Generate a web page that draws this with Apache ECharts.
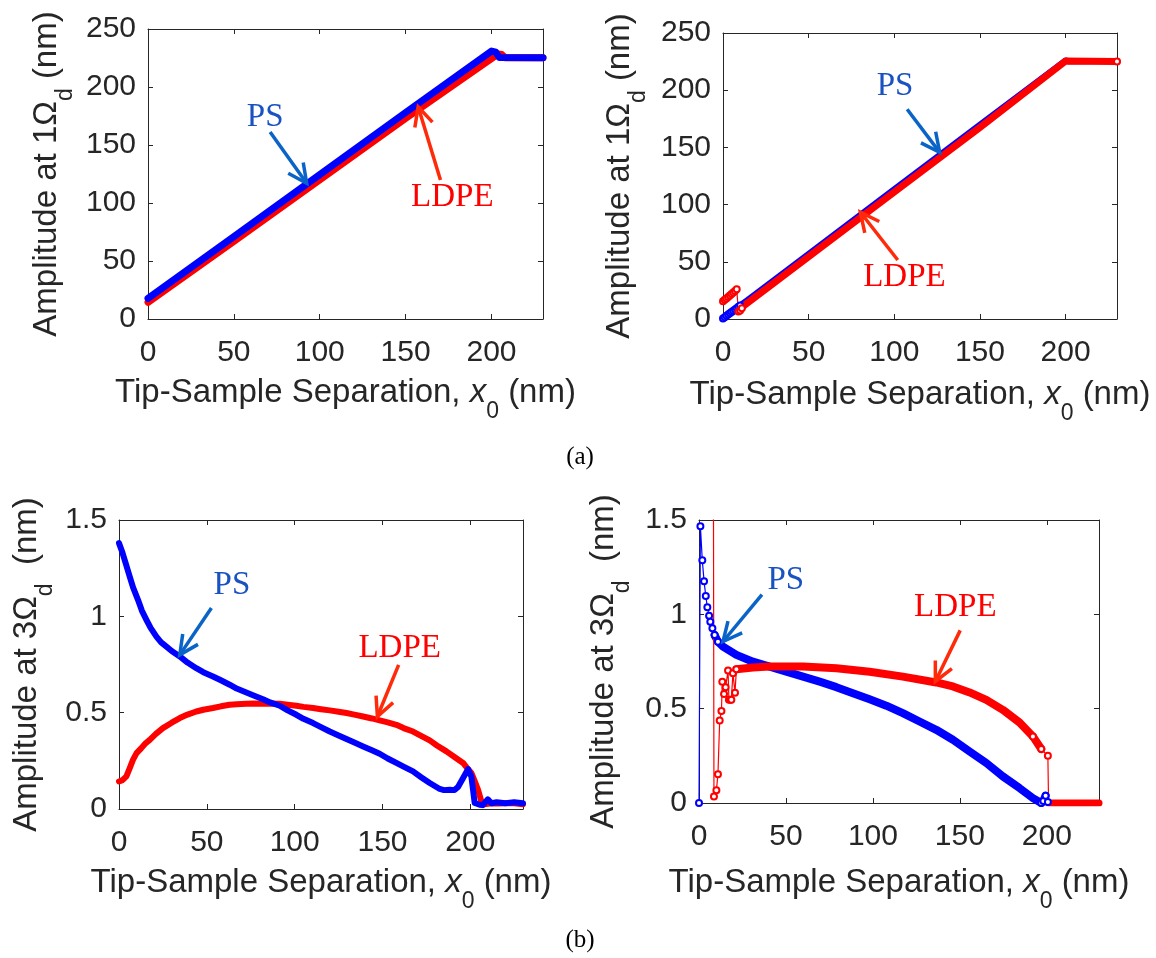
<!DOCTYPE html>
<html><head><meta charset="utf-8">
<script src="https://cdn.jsdelivr.net/npm/echarts@6/dist/echarts.min.js"></script>
<style>html,body{margin:0;padding:0;background:#fff}#c{width:1156px;height:958px}</style>
</head><body><div id="c"></div>
<script>
// ---------------- DATA ----------------
// x-axis ticks (nm)
const xMin = 0, xMax = 230, xStep = 50;
const yTop = [0, 250, 50];      // 1Ωd panels: min, max, step
const yBot = [0, 1.5, 0.5];     // 3Ωd panels

// (a) left : Amplitude at 1Ωd
const ps1x   = [0, 50, 100, 150, 200, 201, 202.5, 204.5, 230];
const ps1y   = [17.8, 71, 124.4, 178, 231, 232.5, 230, 225.5, 225.3];
const ldpe1x = [0, 50, 100, 150, 200, 204, 206, 208, 230];
const ldpe1y = [14.4, 67, 120, 173, 224.5, 228.5, 228, 225.3, 225.3];

// (a) right : Amplitude at 1Ωd
const ps2x   = [0, 1, 2, 3, 4, 5, 6, 7, 8, 9, 10, 12, 14, 50, 100, 150, 200, 202, 230];
const ps2y   = [0.5, 1.6, 2.8, 3.9, 5, 6.2, 7.3, 8.4, 9.5, 10.7, 11.8, 14.1, 16.3, 57, 113.5, 170, 226, 225.3, 225.3];
const ldpe2x = [0, 1, 2, 3, 4, 5, 6, 7, 8, 9, 10, 11, 12, 50, 100, 150, 200, 201, 230];
const ldpe2y = [15.5, 16.8, 18, 19.3, 20.6, 21.9, 23.2, 24.5, 26, 6.5, 7.5, 9.5, 11.5, 54.5, 111, 167.5, 225.5, 225, 225];

// (b) left : Amplitude at 3Ωd
const ps3x = [0, 2, 4, 6.1, 8, 10.8, 13, 15.6, 18, 21.3, 24, 27, 30, 34.6, 39, 44, 48, 53.5, 58, 63, 67, 72.5, 77, 82, 86, 91.5, 96, 101, 105, 110.5, 115, 120, 125, 129.5, 134, 139, 144, 148.4, 153, 157.9, 162, 167.4, 172, 176.9, 180, 182.6, 185, 188.3, 191, 193, 195.9, 198.7, 200.6, 202.5, 205.3, 207, 210, 212, 215, 220, 225, 230];
const ps3y = [1.380, 1.33, 1.27, 1.206, 1.15, 1.086, 1.03, 0.982, 0.94, 0.895, 0.865, 0.843, 0.82, 0.792, 0.76, 0.731, 0.71, 0.688, 0.668, 0.645, 0.625, 0.605, 0.588, 0.570, 0.553, 0.536, 0.512, 0.489, 0.468, 0.446, 0.425, 0.402, 0.382, 0.363, 0.345, 0.325, 0.305, 0.287, 0.262, 0.239, 0.22, 0.195, 0.165, 0.135, 0.118, 0.104, 0.098, 0.100, 0.098, 0.114, 0.161, 0.207, 0.169, 0.031, 0.022, 0.02, 0.05, 0.03, 0.035, 0.03, 0.035, 0.03];
const ldpe3x = [0, 2, 4.2, 6, 8, 10, 12.7, 15, 17.5, 21, 25, 30, 34.6, 39, 44, 48, 53.5, 58, 63, 67, 72.5, 77, 82, 86, 91.5, 96, 101, 105, 110.5, 115, 120, 125, 129.5, 134, 139, 144, 148.4, 153, 157.9, 162, 167.4, 172, 176.9, 181, 186.4, 191, 195.9, 198, 200.6, 202.5, 204.4, 206.3, 208, 212, 216, 220, 225, 230];
const ldpe3y = [0.143, 0.15, 0.169, 0.21, 0.256, 0.29, 0.316, 0.34, 0.359, 0.39, 0.420, 0.448, 0.472, 0.49, 0.506, 0.515, 0.524, 0.533, 0.541, 0.544, 0.546, 0.548, 0.546, 0.547, 0.546, 0.541, 0.536, 0.53, 0.524, 0.518, 0.512, 0.505, 0.498, 0.49, 0.480, 0.47, 0.460, 0.45, 0.437, 0.42, 0.402, 0.38, 0.356, 0.33, 0.299, 0.27, 0.239, 0.215, 0.187, 0.145, 0.100, 0.040, 0.025, 0.03, 0.028, 0.03, 0.03, 0.025];

// (b) right : Amplitude at 3Ωd
const ps4x = [0, 0.8, 1.9, 2.9, 3.9, 4.8, 5.8, 6.5, 7.7, 9, 10.9, 13.8, 21.5, 31, 40.6, 50.2, 59.8, 69.4, 79, 88.5, 98.1, 107.7, 117.2, 126.8, 136.4, 146, 155.6, 165.2, 174.7, 184.3, 192, 196.8, 198, 199.3, 200.6, 202, 230];
const ps4y = [0, 1.467, 1.287, 1.176, 1.097, 1.037, 0.993, 0.961, 0.926, 0.89, 0.855, 0.829, 0.785, 0.749, 0.723, 0.696, 0.670, 0.643, 0.614, 0.582, 0.550, 0.516, 0.476, 0.432, 0.388, 0.335, 0.273, 0.212, 0.141, 0.079, 0.026, 0.0, 0.01, 0.039, 0.005, 0, 0];
const ldpe4x = [7.7, 8.6, 10, 10.9, 11.9, 12.9, 13.4, 14.4, 15.3, 16.7, 17.2, 18.1, 18.6, 19.5, 20.7, 21.5, 31, 40.6, 59.8, 79, 98.1, 117.2, 136.4, 146, 155.6, 165.2, 174.7, 184.3, 192, 196.8, 200.6, 201, 230];
const ldpe4y = [5, 0.035, 0.067, 0.153, 0.437, 0.488, 0.643, 0.578, 0.614, 0.702, 0.547, 0.547, 0.547, 0.688, 0.585, 0.709, 0.718, 0.723, 0.723, 0.714, 0.696, 0.670, 0.639, 0.618, 0.586, 0.547, 0.494, 0.427, 0.353, 0.286, 0.250, 0, 0];

// ---------------- LAYOUT / STYLE ----------------
const SANS = '"Liberation Sans", Arial, sans-serif';
const SERIF = '"Liberation Serif", "Times New Roman", serif';
const AX = '#262626';
const BLUE = '#0000ff', RED = '#ff0000';

const grids = [
  {left: 148, top: 29, width: 395, height: 290},
  {left: 723, top: 33, width: 394, height: 286},
  {left: 119, top: 520, width: 404, height: 289},
  {left: 699, top: 520, width: 400, height: 283}
];
const xNameGap = [44, 46, 44, 50];
const yNameGap = [71, 73, 62, 65];

const richName = {
  m:   {fontSize: 33, fontFamily: SANS, color: AX, lineHeight: 60, verticalAlign: 'middle'},
  it:  {fontSize: 33, fontFamily: SANS, fontStyle: 'italic', color: AX, lineHeight: 60, verticalAlign: 'middle'},
  sub: {fontSize: 23, fontFamily: SANS, color: AX, lineHeight: 22, verticalAlign: 'bottom'}
};
const xName = '{m|Tip-Sample Separation, }{it|x}{sub|0}{m| (nm)}';
const yNames = ['{m|Amplitude at 1Ω}{sub|d}{m| (nm)}', '{m|Amplitude at 1Ω}{sub|d}{m| (nm)}',
                '{m|Amplitude at 3Ω}{sub|d}{m|  (nm)}', '{m|Amplitude at 3Ω}{sub|d}{m|  (nm)}'];

const zip = (xs, ys) => xs.map((x, i) => [x, ys[i]]);
const band = (xs, ys, lo, hi) => zip(xs, ys).filter(p => p[0] >= lo && p[0] <= hi);
const marked = (xs, ys, f) => zip(xs, ys).map(p => ({value: p, symbol: f(p[0]) ? 'emptyCircle' : 'none'}));

const xAxes = [], yAxes = [];
grids.forEach((g, i) => {
  const yr = i < 2 ? yTop : yBot;
  const axLine = {show: true, onZero: false, lineStyle: {color: AX, width: 1}};
  const tick = {show: true, inside: true, length: 5, lineStyle: {color: AX, width: 1}};
  xAxes.push({type: 'value', gridIndex: i, min: xMin, max: xMax, interval: xStep, position: 'bottom',
    axisLine: axLine, axisTick: tick, splitLine: {show: false},
    axisLabel: {fontSize: 30, fontFamily: SANS, color: AX, margin: 19, showMaxLabel: false},
    name: xName, nameLocation: 'middle', nameGap: xNameGap[i], nameTextStyle: {rich: richName}});
  yAxes.push({type: 'value', gridIndex: i, min: yr[0], max: yr[1], interval: yr[2], position: 'left',
    axisLine: axLine, axisTick: tick, splitLine: {show: false},
    axisLabel: {fontSize: 30, fontFamily: SANS, color: AX, margin: 12},
    name: yNames[i], nameLocation: 'middle', nameGap: yNameGap[i], nameRotate: 90, nameTextStyle: {rich: richName}});
});
grids.forEach((g, i) => {
  const yr = i < 2 ? yTop : yBot;
  const axLine = {show: true, onZero: false, lineStyle: {color: AX, width: 1}};
  const tick = {show: true, inside: true, length: 5, lineStyle: {color: AX, width: 1}};
  xAxes.push({type: 'value', gridIndex: i, min: xMin, max: xMax, interval: xStep, position: 'top',
    axisLine: axLine, axisTick: tick, axisLabel: {show: false}, splitLine: {show: false}});
  yAxes.push({type: 'value', gridIndex: i, min: yr[0], max: yr[1], interval: yr[2], position: 'right',
    axisLine: axLine, axisTick: tick, axisLabel: {show: false}, splitLine: {show: false}});
});

const thick = (i, data, color, w) => ({type: 'line', xAxisIndex: i, yAxisIndex: i, data, showSymbol: false, symbol: 'none',
  lineStyle: {color, width: w, cap: 'round', join: 'round'}, itemStyle: {color}, clip: true, animation: false, silent: true});
const thin = (i, data, color) => ({type: 'line', xAxisIndex: i, yAxisIndex: i, data, showSymbol: true, symbolSize: 6,
  lineStyle: {color, width: 1.2}, itemStyle: {color, borderColor: color, borderWidth: 1}, clip: true, animation: false, silent: true});

const series = [
  // (a) left
  thick(0, zip(ldpe1x, ldpe1y), RED, 7),
  thick(0, zip(ps1x, ps1y), BLUE, 7),
  // (a) right
  thin(1, marked(ps2x, ps2y, x => x <= 10), BLUE),
  thick(1, band(ps2x, ps2y, 10, 230), BLUE, 6),
  thin(1, marked(ldpe2x, ldpe2y, x => x <= 11 || x >= 229), RED),
  thick(1, band(ldpe2x, ldpe2y, 10, 230), RED, 7),
  // (b) left
  thick(2, zip(ldpe3x, ldpe3y), RED, 6),
  thick(2, zip(ps3x, ps3y), BLUE, 6),
  // (b) right
  thin(3, marked(ps4x, ps4y, x => x <= 12 || (x >= 196 && x <= 201)), BLUE),
  thick(3, band(ps4x, ps4y, 9, 199.3), BLUE, 8),
  thin(3, marked(ldpe4x, ldpe4y, x => x <= 21.5 || (x >= 192 && x <= 200.6)), RED),
  thick(3, band(ldpe4x, ldpe4y, 21.5, 196.8), RED, 8),
  thick(3, band(ldpe4x, ldpe4y, 201, 230), RED, 7)
];

const chart = echarts.init(document.getElementById('c'), null, {renderer: 'canvas'});
chart.setOption({
  backgroundColor: '#ffffff',
  animation: false,
  grid: grids.map(g => Object.assign({containLabel: false, show: false}, g)),
  xAxis: xAxes, yAxis: yAxes, series
});

// ---------------- ANNOTATIONS (data coordinates) ----------------
const PS_TXT = '#1a52c2', PS_ARR = '#0a64c8', LD_TXT = '#ff0000', LD_ARR = '#ff2a0a';
const annots = [
  {g: 0, t: 'PS',   c: PS_TXT, a: PS_ARR, at: [68.2, 174],    tail: [71.1, 161.2], tip: [92.4, 117]},
  {g: 0, t: 'LDPE', c: LD_TXT, a: LD_ARR, at: [177.2, 104.7], tail: [170.3, 119.8], tip: [157.3, 183]},
  {g: 1, t: 'PS',   c: PS_TXT, a: PS_ARR, at: [100.4, 203.4], tail: [107.5, 183.3], tip: [126.5, 145.7]},
  {g: 1, t: 'LDPE', c: LD_TXT, a: LD_ARR, at: [105.9, 36.3],  tail: [102, 51.6],   tip: [80.2, 93.3]},
  {g: 2, t: 'PS',   c: PS_TXT, a: PS_ARR, at: [64.3, 1.162],  tail: [52.6, 1.043], tip: [34.6, 0.800]},
  {g: 2, t: 'LDPE', c: LD_TXT, a: LD_ARR, at: [159.8, 0.833], tail: [159.2, 0.748], tip: [147.1, 0.480]},
  {g: 3, t: 'PS',   c: PS_TXT, a: PS_ARR, at: [49.9, 1.181],  tail: [36.2, 1.104], tip: [13.8, 0.856]},
  {g: 3, t: 'LDPE', c: LD_TXT, a: LD_ARR, at: [147.4, 1.038], tail: [150.2, 0.915], tip: [135.9, 0.644]}
];
const gfx = [];
annots.forEach(an => {
  const cv = p => chart.convertToPixel({xAxisIndex: an.g, yAxisIndex: an.g}, p);
  const tp = cv(an.at), tl = cv(an.tail), tip = cv(an.tip);
  gfx.push({type: 'text', x: tp[0], y: tp[1], z: 100,
    style: {text: an.t, fill: an.c, fontSize: 33, fontFamily: SERIF, align: 'center', verticalAlign: 'middle'}});
  gfx.push({type: 'line', z: 100, shape: {x1: tl[0], y1: tl[1], x2: tip[0], y2: tip[1]},
    style: {stroke: an.a, lineWidth: 3.5}});
  const dx = tl[0] - tip[0], dy = tl[1] - tip[1], L = Math.hypot(dx, dy);
  const ux = dx / L, uy = dy / L, th = 26 * Math.PI / 180, hl = 21;
  const rot = s => [tip[0] + hl * (ux * Math.cos(s) - uy * Math.sin(s)), tip[1] + hl * (ux * Math.sin(s) + uy * Math.cos(s))];
  gfx.push({type: 'polyline', z: 100, shape: {points: [rot(th), tip, rot(-th)]},
    style: {stroke: an.a, lineWidth: 3.5, fill: null, lineJoin: 'miter'}});
});
gfx.push({type: 'text', x: 580, y: 457, style: {text: '(a)', fill: '#000', fontSize: 25, fontFamily: SERIF, align: 'center', verticalAlign: 'middle'}});
gfx.push({type: 'text', x: 580, y: 940, style: {text: '(b)', fill: '#000', fontSize: 25, fontFamily: SERIF, align: 'center', verticalAlign: 'middle'}});
chart.setOption({graphic: gfx});
</script>
</body></html>
